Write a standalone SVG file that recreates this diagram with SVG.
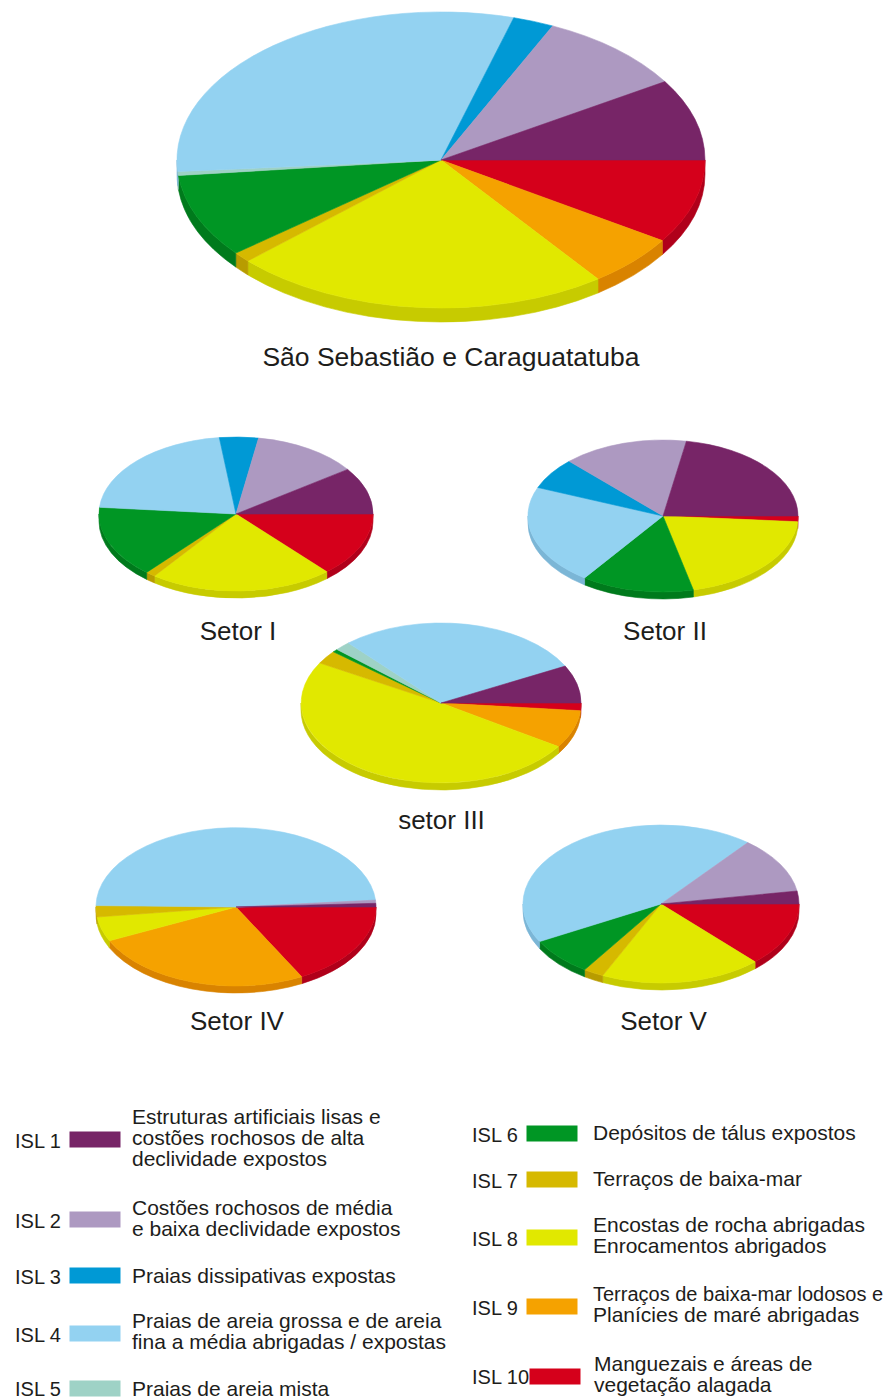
<svg xmlns="http://www.w3.org/2000/svg" width="891" height="1398" viewBox="0 0 891 1398">
<style>
text{font-family:"Liberation Sans",Arial,Helvetica,sans-serif;fill:#1d1d1b}
.lab{font-size:26px;text-anchor:middle}
.isl{font-size:20px}
.desc{font-size:21px}
path{stroke-width:0.6;stroke-linejoin:round}
.c1{fill:#772567;stroke:#772567}
.c2{fill:#ad99c1;stroke:#ad99c1}
.c3{fill:#0099d5;stroke:#0099d5}
.c4{fill:#93d2f1;stroke:#93d2f1}
.c5{fill:#9ed2c6;stroke:#9ed2c6}
.c6{fill:#009624;stroke:#009624}
.c7{fill:#d6b900;stroke:#d6b900}
.c8{fill:#e1e800;stroke:#e1e800}
.c9{fill:#f5a200;stroke:#f5a200}
.c10{fill:#d5001b;stroke:#d5001b}
.s4{fill:#7bb6d6;stroke:#7bb6d6}
.s5{fill:#82b8ac;stroke:#82b8ac}
.s6{fill:#007a1c;stroke:#007a1c}
.s7{fill:#b89c00;stroke:#b89c00}
.s8{fill:#c7cb00;stroke:#c7cb00}
.s9{fill:#d98300;stroke:#d98300}
.s10{fill:#b0001a;stroke:#b0001a}
rect{stroke:none}
</style>
<rect width="891" height="1398" fill="#ffffff"/>

<g id="pie-sao-sebastiao">
<path class="s10" d="M705,160 A264,148 0 0 1 662.4,240.6 L662.4,254.6 A264,148 0 0 0 705,174 Z"/>
<path class="s9" d="M662.4,240.6 A264,148 0 0 1 598,279 L598,293 A264,148 0 0 0 662.4,254.6 Z"/>
<path class="s8" d="M598,279 A264,148 0 0 1 247.9,260.9 L247.9,274.9 A264,148 0 0 0 598,293 Z"/>
<path class="s7" d="M247.9,260.9 A264,148 0 0 1 235.8,253.1 L235.8,267.1 A264,148 0 0 0 247.9,274.9 Z"/>
<path class="s6" d="M235.8,253.1 A264,148 0 0 1 178.4,175.5 L178.4,189.5 A264,148 0 0 0 235.8,267.1 Z"/>
<path class="s5" d="M178.4,175.5 A264,148 0 0 1 177.8,171.6 L177.8,185.6 A264,148 0 0 0 178.4,189.5 Z"/>
<path class="s4" d="M177.8,171.6 A264,148 0 0 1 177,160 L177,174 A264,148 0 0 0 177.8,185.6 Z"/>
<path class="c10" d="M441,160 L705,160 A264,148 0 0 1 662.4,240.6 Z"/>
<path class="c9" d="M441,160 L662.4,240.6 A264,148 0 0 1 598,279 Z"/>
<path class="c8" d="M441,160 L598,279 A264,148 0 0 1 247.9,260.9 Z"/>
<path class="c7" d="M441,160 L247.9,260.9 A264,148 0 0 1 235.8,253.1 Z"/>
<path class="c6" d="M441,160 L235.8,253.1 A264,148 0 0 1 178.4,175.5 Z"/>
<path class="c5" d="M441,160 L178.4,175.5 A264,148 0 0 1 177.8,171.6 Z"/>
<path class="c4" d="M441,160 L177.8,171.6 A264,148 0 0 1 513.8,17.7 Z"/>
<path class="c3" d="M441,160 L513.8,17.7 A264,148 0 0 1 552.6,25.9 Z"/>
<path class="c2" d="M441,160 L552.6,25.9 A264,148 0 0 1 664.9,81.6 Z"/>
<path class="c1" d="M441,160 L664.9,81.6 A264,148 0 0 1 705,160 Z"/>
<text class="lab" x="451" y="366" style="font-size:26.5px">São Sebastião e Caraguatatuba</text>
</g>

<g id="pie-setor-1">
<path class="s10" d="M373,514 A137,77 0 0 1 326.8,571.7 L326.8,578.7 A137,77 0 0 0 373,521 Z"/>
<path class="s8" d="M326.8,571.7 A137,77 0 0 1 154.5,575.9 L154.5,582.9 A137,77 0 0 0 326.8,578.7 Z"/>
<path class="s7" d="M154.5,575.9 A137,77 0 0 1 146.7,572.4 L146.7,579.4 A137,77 0 0 0 154.5,582.9 Z"/>
<path class="s6" d="M146.7,572.4 A137,77 0 0 1 99,514 L99,521 A137,77 0 0 0 146.7,579.4 Z"/>
<path class="c10" d="M236,514 L373,514 A137,77 0 0 1 326.8,571.7 Z"/>
<path class="c8" d="M236,514 L326.8,571.7 A137,77 0 0 1 154.5,575.9 Z"/>
<path class="c7" d="M236,514 L154.5,575.9 A137,77 0 0 1 146.7,572.4 Z"/>
<path class="c6" d="M236,514 L146.7,572.4 A137,77 0 0 1 99.5,507.3 Z"/>
<path class="c4" d="M236,514 L99.5,507.3 A137,77 0 0 1 219.3,437.6 Z"/>
<path class="c3" d="M236,514 L219.3,437.6 A137,77 0 0 1 258.6,438.1 Z"/>
<path class="c2" d="M236,514 L258.6,438.1 A137,77 0 0 1 347.7,469.4 Z"/>
<path class="c1" d="M236,514 L347.7,469.4 A137,77 0 0 1 373,514 Z"/>
<text class="lab" x="238" y="640">Setor I</text>
</g>

<g id="pie-setor-2">
<path class="s10" d="M798,516 A135,76 0 0 1 797.6,521.7 L797.6,528.7 A135,76 0 0 0 798,523 Z"/>
<path class="s8" d="M797.6,521.7 A135,76 0 0 1 693.4,590 L693.4,597 A135,76 0 0 0 797.6,528.7 Z"/>
<path class="s6" d="M693.4,590 A135,76 0 0 1 584.6,577.9 L584.6,584.9 A135,76 0 0 0 693.4,597 Z"/>
<path class="s4" d="M584.6,577.9 A135,76 0 0 1 528,516 L528,523 A135,76 0 0 0 584.6,584.9 Z"/>
<path class="c10" d="M663,516 L798,516 A135,76 0 0 1 797.6,521.7 Z"/>
<path class="c8" d="M663,516 L797.6,521.7 A135,76 0 0 1 693.4,590 Z"/>
<path class="c6" d="M663,516 L693.4,590 A135,76 0 0 1 584.6,577.9 Z"/>
<path class="c4" d="M663,516 L584.6,577.9 A135,76 0 0 1 537.8,487.5 Z"/>
<path class="c3" d="M663,516 L537.8,487.5 A135,76 0 0 1 569.2,461.3 Z"/>
<path class="c2" d="M663,516 L569.2,461.3 A135,76 0 0 1 686.4,441.2 Z"/>
<path class="c1" d="M663,516 L686.4,441.2 A135,76 0 0 1 798,516 Z"/>
<text class="lab" x="665" y="640">Setor II</text>
</g>

<g id="pie-setor-3">
<path class="s10" d="M581,703 A140,80 0 0 1 580.4,710.7 L580.4,717.7 A140,80 0 0 0 581,710 Z"/>
<path class="s9" d="M580.4,710.7 A140,80 0 0 1 558.4,746.6 L558.4,753.6 A140,80 0 0 0 580.4,717.7 Z"/>
<path class="s8" d="M558.4,746.6 A140,80 0 0 1 301,703 L301,710 A140,80 0 0 0 558.4,753.6 Z"/>
<path class="c10" d="M441,703 L581,703 A140,80 0 0 1 580.4,710.7 Z"/>
<path class="c9" d="M441,703 L580.4,710.7 A140,80 0 0 1 558.4,746.6 Z"/>
<path class="c8" d="M441,703 L558.4,746.6 A140,80 0 0 1 319.8,663 Z"/>
<path class="c7" d="M441,703 L319.8,663 A140,80 0 0 1 333.4,651.8 Z"/>
<path class="c6" d="M441,703 L333.4,651.8 A140,80 0 0 1 337,649.5 Z"/>
<path class="c5" d="M441,703 L337,649.5 A140,80 0 0 1 348.4,643 Z"/>
<path class="c4" d="M441,703 L348.4,643 A140,80 0 0 1 565.2,666.1 Z"/>
<path class="c1" d="M441,703 L565.2,666.1 A140,80 0 0 1 581,703 Z"/>
<text class="lab" x="441.5" y="829">setor III</text>
</g>

<g id="pie-setor-4">
<path class="s10" d="M376,907 A140,79 0 0 1 301.7,976.7 L301.7,983.7 A140,79 0 0 0 376,914 Z"/>
<path class="s9" d="M301.7,976.7 A140,79 0 0 1 109.4,940.8 L109.4,947.8 A140,79 0 0 0 301.7,983.7 Z"/>
<path class="s8" d="M109.4,940.8 A140,79 0 0 1 97.1,917 L97.1,924 A140,79 0 0 0 109.4,947.8 Z"/>
<path class="s7" d="M97.1,917 A140,79 0 0 1 96,907 L96,914 A140,79 0 0 0 97.1,924 Z"/>
<path class="c10" d="M236,907 L376,907 A140,79 0 0 1 301.7,976.7 Z"/>
<path class="c9" d="M236,907 L301.7,976.7 A140,79 0 0 1 109.4,940.8 Z"/>
<path class="c8" d="M236,907 L109.4,940.8 A140,79 0 0 1 97.1,917 Z"/>
<path class="c7" d="M236,907 L97.1,917 A140,79 0 0 1 96,905.6 Z"/>
<path class="c4" d="M236,907 L96,905.6 A140,79 0 0 1 375.5,900.1 Z"/>
<path class="c2" d="M236,907 L375.5,900.1 A140,79 0 0 1 375.8,903.3 Z"/>
<path class="c1" d="M236,907 L375.8,903.3 A140,79 0 0 1 376,907 Z"/>
<text class="lab" x="237" y="1030">Setor IV</text>
</g>

<g id="pie-setor-5">
<path class="s10" d="M799,904 A138,79 0 0 1 755.1,961.8 L755.1,968.8 A138,79 0 0 0 799,911 Z"/>
<path class="s8" d="M755.1,961.8 A138,79 0 0 1 602.7,975.6 L602.7,982.6 A138,79 0 0 0 755.1,968.8 Z"/>
<path class="s7" d="M602.7,975.6 A138,79 0 0 1 584.6,969.8 L584.6,976.8 A138,79 0 0 0 602.7,982.6 Z"/>
<path class="s6" d="M584.6,969.8 A138,79 0 0 1 539.6,941.6 L539.6,948.6 A138,79 0 0 0 584.6,976.8 Z"/>
<path class="s4" d="M539.6,941.6 A138,79 0 0 1 523,904 L523,911 A138,79 0 0 0 539.6,948.6 Z"/>
<path class="c10" d="M661,904 L799,904 A138,79 0 0 1 755.1,961.8 Z"/>
<path class="c8" d="M661,904 L755.1,961.8 A138,79 0 0 1 602.7,975.6 Z"/>
<path class="c7" d="M661,904 L602.7,975.6 A138,79 0 0 1 584.6,969.8 Z"/>
<path class="c6" d="M661,904 L584.6,969.8 A138,79 0 0 1 539.6,941.6 Z"/>
<path class="c4" d="M661,904 L539.6,941.6 A138,79 0 0 1 747.8,842.6 Z"/>
<path class="c2" d="M661,904 L747.8,842.6 A138,79 0 0 1 797.1,891 Z"/>
<path class="c1" d="M661,904 L797.1,891 A138,79 0 0 1 799,904 Z"/>
<text class="lab" x="663.5" y="1030">Setor V</text>
</g>

<g id="legend">
<g id="legend-isl1">
<text class="isl" x="15" y="1148">ISL 1</text>
<rect class="c1" x="70" y="1132" width="50" height="15"/>
<text class="desc" x="132" y="1124">Estruturas artificiais lisas e</text>
<text class="desc" x="132" y="1145">costões rochosos de alta</text>
<text class="desc" x="132" y="1166">declividade expostos</text>
</g>
<g id="legend-isl2">
<text class="isl" x="15" y="1228">ISL 2</text>
<rect class="c2" x="70" y="1212" width="50" height="15"/>
<text class="desc" x="132" y="1215">Costões rochosos de média</text>
<text class="desc" x="132" y="1236">e baixa declividade expostos</text>
</g>
<g id="legend-isl3">
<text class="isl" x="15" y="1284">ISL 3</text>
<rect class="c3" x="70" y="1268" width="50" height="15"/>
<text class="desc" x="132" y="1283">Praias dissipativas expostas</text>
</g>
<g id="legend-isl4">
<text class="isl" x="15" y="1342">ISL 4</text>
<rect class="c4" x="70" y="1326" width="50" height="15"/>
<text class="desc" x="132" y="1328">Praias de areia grossa e de areia</text>
<text class="desc" x="132" y="1349">fina a média abrigadas / expostas</text>
</g>
<g id="legend-isl5">
<text class="isl" x="15" y="1396">ISL 5</text>
<rect class="c5" x="70" y="1381" width="50" height="15"/>
<text class="desc" x="132" y="1396">Praias de areia mista</text>
</g>
<g id="legend-isl6">
<text class="isl" x="472" y="1142">ISL 6</text>
<rect class="c6" x="527" y="1126" width="50" height="15"/>
<text class="desc" x="593" y="1140">Depósitos de tálus expostos</text>
</g>
<g id="legend-isl7">
<text class="isl" x="472" y="1188">ISL 7</text>
<rect class="c7" x="527" y="1172" width="50" height="15"/>
<text class="desc" x="593" y="1186">Terraços de baixa-mar</text>
</g>
<g id="legend-isl8">
<text class="isl" x="472" y="1246">ISL 8</text>
<rect class="c8" x="527" y="1230" width="50" height="15"/>
<text class="desc" x="593" y="1232">Encostas de rocha abrigadas</text>
<text class="desc" x="593" y="1253">Enrocamentos abrigados</text>
</g>
<g id="legend-isl9">
<text class="isl" x="472" y="1315">ISL 9</text>
<rect class="c9" x="527" y="1299" width="50" height="15"/>
<text class="desc" x="593" y="1301" style="font-size:20px">Terraços de baixa-mar lodosos e</text>
<text class="desc" x="593" y="1322">Planícies de maré abrigadas</text>
</g>
<g id="legend-isl10">
<text class="isl" x="472" y="1384">ISL 10</text>
<rect class="c10" x="530" y="1369" width="50" height="15"/>
<text class="desc" x="594" y="1371">Manguezais e áreas de</text>
<text class="desc" x="594" y="1392">vegetação alagada</text>
</g>
</g>
</svg>
